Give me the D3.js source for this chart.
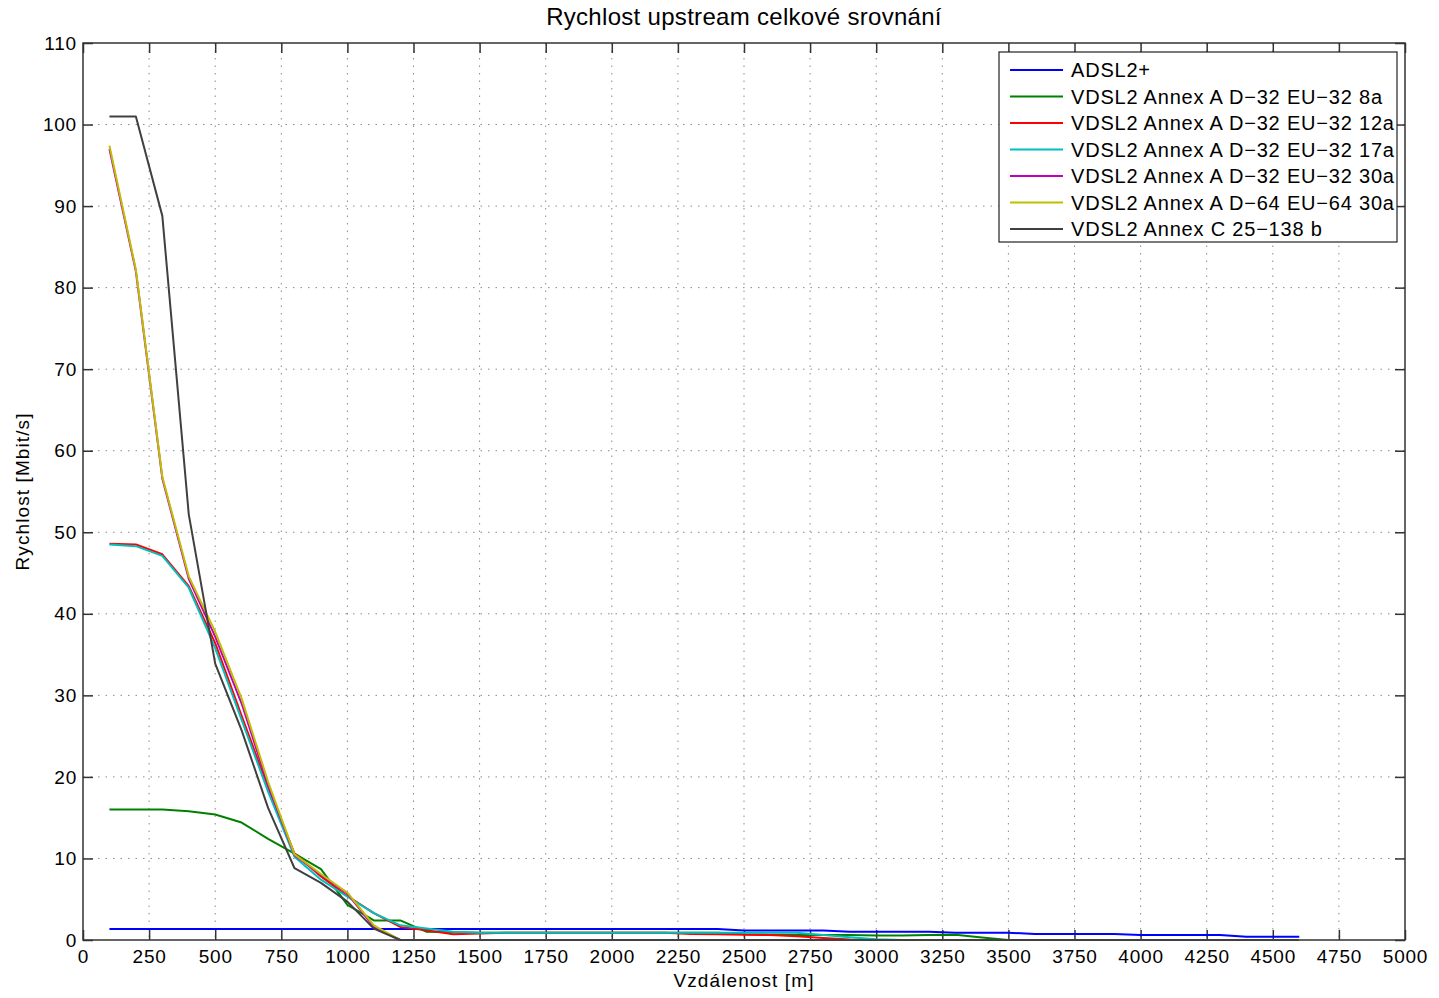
<!DOCTYPE html>
<html><head><meta charset="utf-8">
<script src="https://cdn.jsdelivr.net/npm/d3@7"></script>
<style>
html,body{margin:0;padding:0;background:#fff;}
svg{display:block;font-family:"Liberation Sans",Arial,Helvetica,sans-serif;}
</style></head>
<body><svg id="chart" width="1439" height="998"></svg>
<script>
const distances = d3.range(100, 4601, 100);
const seriesNames = [
  "ADSL2+",
  "VDSL2 Annex A D\u221232 EU\u221232 8a",
  "VDSL2 Annex A D\u221232 EU\u221232 12a",
  "VDSL2 Annex A D\u221232 EU\u221232 17a",
  "VDSL2 Annex A D\u221232 EU\u221232 30a",
  "VDSL2 Annex A D\u221264 EU\u221264 30a",
  "VDSL2 Annex C 25\u2212138 b"
];
const seriesColors = ["#0000ff","#008000","#ff0000","#00bfbf","#bf00bf","#bfbf00","#404040"];
const adsl2 = [1.35,1.35,1.35,1.35,1.35,1.35,1.35,1.35,1.35,1.35,1.35,1.35,1.35,1.35,1.35,1.35,1.35,1.35,1.35,1.35,1.35,1.35,1.35,1.35,
  1.15,1.15,1.15,1.15, 1.0,1.0,1.0,1.0, 0.9,0.9,0.9, 0.74,0.74,0.74,0.74, 0.6,0.6,0.6,0.6, 0.4,0.4,0.4];
const vdsl8a = [16,16,16,15.8,15.4,14.4,12.4,10.6,8.7,4.3,2.4,2.4,1.0,0.95,
  0.9,0.9,0.9,0.9,0.9,0.9,0.9,0.9,0.9,0.9,
  0.7,0.65,0.6,0.6,0.6,0.55,0.55,0.6,0.65,0.3,
  0,0,0,0,0,0,0,0,0,0,0,0];
const vdsl12a = [48.6,48.5,47.3,43.4,36.4,27.5,18.7,10.6,7.8,5.4,3.3,1.6,1.2,0.7,0.8,
  0.9,0.9,0.9,0.9,0.9,0.9,0.9,
  0.75,0.7,0.65,0.6,0.45,0.25,0.05,
  0,0,0,0,0,0,0,0,0,0,0,0,0,0,0,0,0];
const vdsl17a = [48.5,48.3,47.1,43.2,35.8,27.0,18.2,10.2,7.4,5.3,3.3,1.8,1.4,1.0,
  0.9,0.9,0.9,0.9,0.9,0.9,0.9,0.9,0.9,0.9,0.9,0.9,0.9,
  0.6,0.35,0.1,
  0,0,0,0,0,0,0,0,0,0,0,0,0,0,0,0];
const vdsl30a = [97.0,82.0,56.6,44.3,37.2,29.0,19.0,10.4,8.0,5.7,1.6,0,
  0,0,0,0,0,0,0,0,0,0,0,0,0,0,0,0,0,0,0,0,0,0,0,0,0,0,0,0,0,0,0,0,0,0];
const vdsl64_30a = [97.4,82.2,56.8,44.6,37.8,29.6,19.4,10.5,8.1,5.8,1.8,0,
  0,0,0,0,0,0,0,0,0,0,0,0,0,0,0,0,0,0,0,0,0,0,0,0,0,0,0,0,0,0,0,0,0,0];
const annexC = [101,101,88.8,52.2,33.9,25.7,16.2,8.8,7.0,4.7,1.4,0,
  0,0,0,0,0,0,0,0,0,0,0,0,0,0,0,0,0,0,0,0,0,0,0,0,0,0,0,0,0,0,0,0,0,0];
const allSeries = [adsl2, vdsl8a, vdsl12a, vdsl17a, vdsl30a, vdsl64_30a, annexC];
const xTicks = d3.range(0, 5001, 250);
const yTicks = d3.range(0, 111, 10);
const titleText = "Rychlost upstream celkové srovnání";
const xLabel = "Vzdálenost [m]";
const yLabel = "Rychlost [Mbit/s]";

const L = 83, R = 1405, T = 43, B = 940;
const svg = d3.select("#chart");
const x = d3.scaleLinear().domain([0, 5000]).range([L, R]);
const y = d3.scaleLinear().domain([0, 110]).range([B, T]);

// grid
const grid = svg.append("g");
grid.selectAll("line.gx").data(xTicks.slice(1, -1)).join("line")
  .attr("x1", d => x(d)).attr("x2", d => x(d)).attr("y1", T).attr("y2", B)
  .attr("stroke", "#8a8a8a").attr("stroke-width", 1).attr("stroke-dasharray", "1.5,6");
grid.selectAll("line.gy").data(yTicks.slice(1, -1)).join("line")
  .attr("x1", L).attr("x2", R).attr("y1", d => y(d)).attr("y2", d => y(d))
  .attr("stroke", "#8a8a8a").attr("stroke-width", 1).attr("stroke-dasharray", "1.5,6");

// axes
const axB = d3.axisBottom(x).tickValues(xTicks).tickSize(-10).tickPadding(10).tickFormat(d3.format("d"));
const axT = d3.axisTop(x).tickValues(xTicks).tickSize(-10).tickFormat("");
const axLf = d3.axisLeft(y).tickValues(yTicks).tickSize(-10).tickPadding(6).tickFormat(d3.format("d"));
const axRt = d3.axisRight(y).tickValues(yTicks).tickSize(-10).tickFormat("");
function styleAxis(g){
  g.select(".domain").remove();
  g.selectAll(".tick line").attr("stroke", "#333").attr("stroke-width", 1.5);
  g.selectAll(".tick text").attr("fill", "#000").style("font-size", "19px")
    .style("letter-spacing", "0.8px")
    .style("font-family", "'Liberation Sans',Arial,sans-serif");
}
svg.append("g").attr("transform", `translate(0,${B})`).call(axB).call(styleAxis);
svg.append("g").attr("transform", `translate(0,${T})`).call(axT).call(styleAxis);
svg.append("g").attr("transform", `translate(${L},0)`).call(axLf).call(styleAxis);
svg.append("g").attr("transform", `translate(${R},0)`).call(axRt).call(styleAxis);

// box
svg.append("rect").attr("x", L).attr("y", T).attr("width", R - L).attr("height", B - T)
  .attr("fill", "none").attr("stroke", "#333").attr("stroke-width", 1.5);

// lines
const line = d3.line().x(d => x(d[0])).y(d => y(d[1]));
const linesG = svg.append("g");
allSeries.forEach((vals, i) => {
  linesG.append("path")
    .datum(distances.map((dd, j) => [dd, vals[j]]))
    .attr("d", line).attr("fill", "none")
    .attr("stroke", seriesColors[i]).attr("stroke-width", 2)
    .attr("stroke-linejoin", "round");
});

// labels
svg.append("text").attr("x", (L + R) / 2).attr("y", 25).attr("text-anchor", "middle")
  .style("font-size", "24px").style("letter-spacing", "0.3px").text(titleText);
svg.append("text").attr("x", (L + R) / 2).attr("y", 987).attr("text-anchor", "middle")
  .style("font-size", "19px").style("letter-spacing", "1.1px").text(xLabel);
svg.append("text").attr("transform", `translate(29,${(T + B) / 2}) rotate(-90)`).attr("text-anchor", "middle")
  .style("font-size", "19px").style("letter-spacing", "1.1px").text(yLabel);

// legend
const lg = svg.append("g");
lg.append("rect").attr("x", 999).attr("y", 52).attr("width", 398).attr("height", 190)
  .attr("fill", "#fff").attr("stroke", "#222").attr("stroke-width", 1.2);
seriesNames.forEach((name, i) => {
  const yy = 70 + i * 26.5;
  lg.append("line").attr("x1", 1010).attr("x2", 1063).attr("y1", yy).attr("y2", yy)
    .attr("stroke", seriesColors[i]).attr("stroke-width", 2);
  lg.append("text").attr("x", 1071).attr("y", yy + 7).style("font-size", "20px")
    .style("letter-spacing", "0.8px").text(name);
});
</script></body></html>
